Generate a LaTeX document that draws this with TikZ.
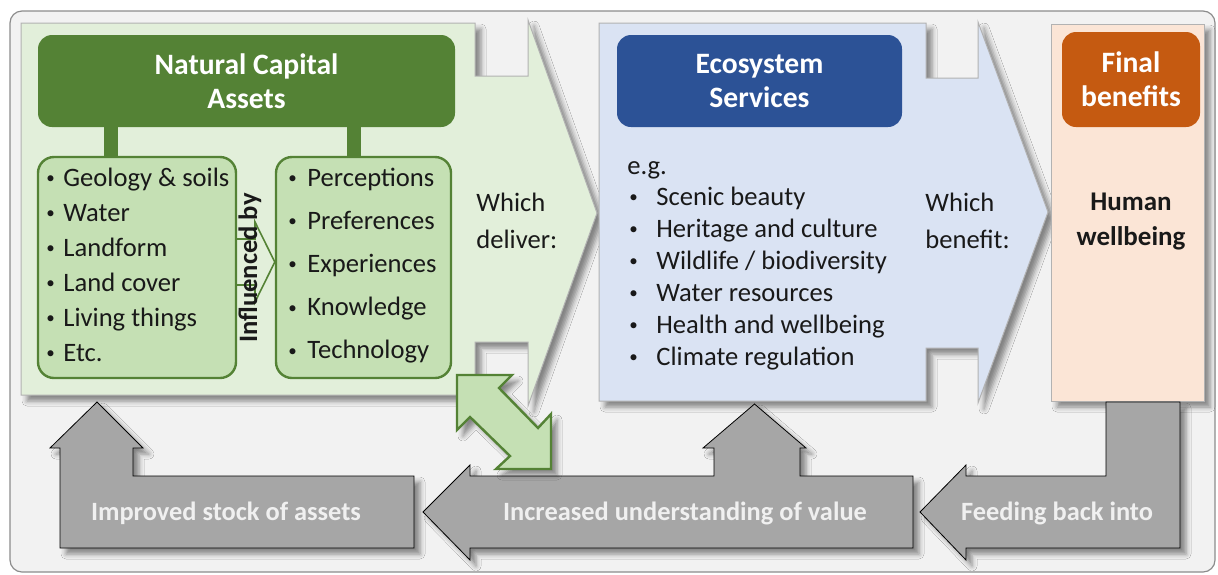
\documentclass[tikz,border=0pt]{standalone}
\usepackage{fontspec}
\setmainfont{Carlito}
\usepackage{tikz}
\usetikzlibrary{shadows.blur}

\definecolor{ncgreen}{RGB}{84,130,53}
\definecolor{panelgreen}{RGB}{226,239,218}
\definecolor{boxgreen}{RGB}{197,224,180}
\definecolor{esblue}{RGB}{44,82,150}
\definecolor{panelblue}{RGB}{218,227,243}
\definecolor{fborange}{RGB}{197,90,17}
\definecolor{panelpeach}{RGB}{251,229,214}
\definecolor{fbgray}{RGB}{166,166,166}
\definecolor{bggray}{RGB}{242,242,242}
\definecolor{ink}{RGB}{25,25,25}

\tikzstyle{shade} = [blur shadow={shadow xshift=3pt, shadow yshift=-3pt, shadow blur radius=2.5pt, shadow opacity=45}]
\tikzstyle{panel} = [draw=black!30, line width=0.5pt, shade]
\tikzstyle{hdr} = [rounded corners=7pt, text=white, align=center, inner sep=0pt, font=\bfseries\fontsize{14.8}{17}\selectfont]
\tikzstyle{lst} = [draw=ncgreen, fill=boxgreen, line width=1.2pt, rounded corners=8pt, inner sep=0pt]
\tikzstyle{item} = [anchor=west, inner sep=0pt, text=ink, text height=9pt, text depth=3pt, font=\fontsize{13.3}{16}\selectfont]
\tikzstyle{note} = [anchor=west, inner sep=0pt, text=ink, align=left, font=\fontsize{13.3}{18.5}\selectfont]
\tikzstyle{garrow} = [fill=fbgray, shade]
\tikzstyle{glabel} = [text=white!94!black, inner sep=0pt, font=\bfseries\fontsize{13.2}{16}\selectfont]
\tikzstyle{stub} = [draw=ncgreen, line width=7pt]
% small list bullet in a box of given width
\newcommand{\bul}[1]{\makebox[#1][l]{\hspace{1pt}\raisebox{1.3pt}{\fontsize{8.5}{8.5}\selectfont\textbullet}}}

\begin{document}
\begin{tikzpicture}[x=0.5pt, y=-0.5pt]
\useasboundingbox (0,0) rectangle (1218,574);

% background =============================
\draw[fill=bggray, draw=black!45, line width=0.6pt, rounded corners=6pt] (10,11) rectangle (1215,572);

% panels
\draw[panel, fill=panelgreen] (21,23) -- (475,23) -- (475,76) -- (528,76) -- (528,20) -- (597,213)
  -- (528,406) -- (528,342) -- (475,342) -- (475,395) -- (21,395) -- cycle;
\draw[panel, fill=panelblue] (599,23) -- (926,23) -- (926,78) -- (978,78) -- (978,22) -- (1048,212)
  -- (978,403) -- (978,348) -- (926,348) -- (926,401) -- (599,401) -- cycle;
\draw[panel, fill=panelpeach] (1051,24) rectangle (1204,401);

% headers
\node[hdr, fill=ncgreen, minimum width=208.5pt, minimum height=46pt] (nca) at (246.5,81) {Natural Capital\\Assets};
\node[hdr, fill=esblue, minimum width=142.5pt, minimum height=46pt] (ess) at (759.5,81) {Ecosystem\\Services};
\node[hdr, fill=fborange, minimum width=69pt, minimum height=47.5pt] (fben) at (1131,79.5) {Final\\benefits};

% asset lists
\node[lst, minimum width=99pt, minimum height=110.5pt] (lstA) at (137,267.5) {};
\node[lst, minimum width=87.5pt, minimum height=110.5pt] (lstB) at (363.5,267.5) {};
\draw[stub] (nca.south -| 111,0) -- (lstA.north -| 111,0);
\draw[stub] (nca.south -| 354,0) -- (lstB.north -| 354,0);

\foreach \t [count=\i from 0] in {Geology \& soils, Water, Landform, Land cover, Living things, Etc.}
  \node[item] (asset\i) at (44,180+35*\i) {\bul{9.5pt}\t};
\foreach \t [count=\i from 0] in {Perceptions, Preferences, Experiences, Knowledge, Technology}
  \node[item] (view\i) at (286,180+43.2*\i) {\bul{10.5pt}\t};

% influenced by
\draw[ncgreen, line width=0.8pt] (lstA.east |- 0,239) -- (255,239) -- (255,222) -- (lstB.west |- 0,262)
  -- (255,302) -- (255,285) -- (lstA.east |- 0,285);
\node[rotate=90, inner sep=0pt, text=ink, font=\bfseries\fontsize{13.3}{16}\selectfont] (infl) at (250,268) {Influenced by};

% services
\node[item] (eg) at (627,168) {e.g.};
\foreach \t [count=\i from 0] in {Scenic beauty, Heritage and culture, Wildlife / biodiversity,
  Water resources, Health and wellbeing, Climate regulation}
  \node[item] (serv\i) at (627,199+32*\i) {\bul{14.5pt}\t};

\node[note] (deliver) at (476,221) {Which\\deliver:};
\node[note] (benefit) at (925,221) {Which\\benefit:};
\node[align=center, inner sep=0pt, text=ink, font=\bfseries\fontsize{13.5}{17.5}\selectfont] (hw) at (1131,222) {Human\\wellbeing};

% feedback arrows
\draw[garrow] (60,548) -- (60,448) -- (50,448) -- (97,402) -- (143,448) -- (133,448) -- (133,476)
  -- (414,476) -- (414,548) -- cycle;
\draw[garrow] (423,512) -- (470,465) -- (470,476) -- (714,476) -- (714,448) -- (703,448) -- (754.5,404)
  -- (806,448) -- (800,448) -- (800,476) -- (913,476) -- (913,548) -- (470,548) -- (470,560) -- cycle;
\draw[garrow] (920,512) -- (966,465) -- (966,476) -- (1106,476) -- (1106,402) -- (1180,402)
  -- (1180,548) -- (966,548) -- (966,560) -- cycle;

\node[glabel] (stock) at (226,513) {Improved stock of assets};
\node[glabel] (value) at (685,513) {Increased understanding of value};
\node[glabel] (feed) at (1057,513) {Feeding back into};

% two-way link
\draw[fill=boxgreen, draw=ncgreen, line width=1.2pt, shade] (457,375) -- (512,375) -- (499,388) -- (538,428)
  -- (551,414) -- (551,469) -- (496,469) -- (510,456) -- (470,417) -- (457,430) -- cycle;

\end{tikzpicture}
\end{document}
